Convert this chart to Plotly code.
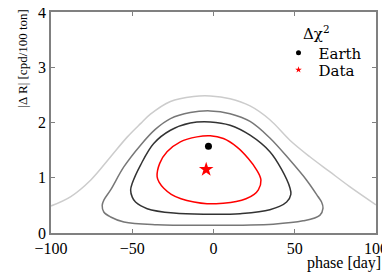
import plotly.graph_objects as go

# Contour levels
light_x = [-100, -87.8, -75.5, -63.3, -53, -44.9, -38.8, -26.5, -12.3, -2, 10.2, 22.5, 34.7, 47, 59.3, 71.5, 83.8, 100]
light_y = [0.49, 0.66, 0.96, 1.38, 1.74, 1.98, 2.15, 2.38, 2.47, 2.48, 2.43, 2.30, 2.05, 1.68, 1.38, 1.11, 0.84, 0.51]

mid_x = [-2, -14.3, -26.5, -36, -44.9, -55.1, -63.3, -67.4, -68.5, -67.5, -63.3, -55.1, -34.7, -4, 36.8, 55.1, 65.4, 67.4, 66.5, 64.3, 57.2, 47, 34.7, 22.5, 10.2, -2]
mid_y = [2.21, 2.18, 2.07, 1.87, 1.59, 1.20, 0.78, 0.60, 0.50, 0.38, 0.29, 0.20, 0.15, 0.14, 0.16, 0.22, 0.32, 0.45, 0.56, 0.66, 0.96, 1.32, 1.72, 2.02, 2.16, 2.21]

dark_x = [-2, -14.3, -26.5, -36.8, -44.9, -50, -51, -50, -48, -40.8, -24.5, -4, 16.4, 34.7, 45, 47.6, 47, 41.9, 34.7, 22.5, 10.2, -2]
dark_y = [2.01, 1.99, 1.86, 1.62, 1.23, 0.90, 0.78, 0.65, 0.56, 0.44, 0.36, 0.34, 0.35, 0.42, 0.56, 0.70, 0.82, 1.15, 1.47, 1.77, 1.95, 2.01]

red_x = [-2, -10.2, -20.4, -28.6, -33.1, -34.7, -33.5, -30.6, -26, -20, -12, -4, 6, 14, 20, 25, 27.6, 29.2, 26.6, 21.4, 14.3, 6.1, -2]
red_y = [1.76, 1.74, 1.65, 1.47, 1.26, 1.02, 0.92, 0.81, 0.70, 0.62, 0.56, 0.53, 0.54, 0.57, 0.62, 0.70, 0.78, 0.96, 1.14, 1.35, 1.56, 1.71, 1.76]

earth_x = [-3.1]
earth_y = [1.57]
data_x = [-4.5]
data_y = [1.15]

x_ticks = [-100, -50, 0, 50, 100]
x_ticklabels = ["\u2212100", "\u221250", "0", "50", "100"]
y_ticks = [0, 1, 2, 3, 4]

SERIF = "Liberation Serif, Times New Roman, serif"
LEG = "DejaVu Serif, serif"

fig = go.Figure()
for xs, ys, col in [(light_x, light_y, "#cccccc"), (mid_x, mid_y, "#777777"),
                    (dark_x, dark_y, "#333333"), (red_x, red_y, "#ff0000")]:
    fig.add_trace(go.Scatter(x=xs, y=ys, mode="lines", line=dict(color=col, width=1.5, shape="spline", smoothing=1.0),
                             showlegend=False, hoverinfo="skip"))

fig.add_trace(go.Scatter(x=earth_x, y=earth_y, mode="markers", marker=dict(color="black", size=7), showlegend=False))
fig.add_trace(go.Scatter(x=data_x, y=data_y, mode="markers", marker=dict(color="red", size=11, symbol="star"), showlegend=False))
# legend entries
fig.add_trace(go.Scatter(x=[None], y=[None], mode="markers", name="Earth", marker=dict(color="black", size=5), legend="legend"))
fig.add_trace(go.Scatter(x=[None], y=[None], mode="markers", name="Data", marker=dict(color="red", size=5, symbol="star"), legend="legend2"))

axis_common = dict(showline=True, linecolor="#808080", linewidth=1.5, mirror="ticks", ticks="inside", ticklen=4,
                   tickcolor="#808080", showgrid=False, zeroline=False, ticklabeloverflow="allow", automargin=False,
                   tickfont=dict(family=SERIF, size=16, color="black"))
fig.update_xaxes(range=[-100, 100], tickvals=x_ticks, ticktext=x_ticklabels, **axis_common)
fig.update_yaxes(range=[0, 4], tickvals=y_ticks, **axis_common)

leg_common = dict(xanchor="left", yanchor="middle", bgcolor="rgba(0,0,0,0)",
                  font=dict(family=LEG, size=15, color="black"), itemwidth=30)
fig.update_layout(
    width=382, height=264, margin=dict(l=43, r=14, t=4, b=39, autoexpand=False),
    paper_bgcolor="white", plot_bgcolor="white",
    font=dict(family=SERIF, color="black"),
    legend=dict(x=0.7, y=0.8145, **leg_common),
    legend2=dict(x=0.7, y=0.7376, **leg_common),
    annotations=[
        dict(text="\u0394\u03c7<sup>2</sup>", x=0.818, y=0.905, xref="paper", yref="paper", xanchor="center", yanchor="middle",
             showarrow=False, font=dict(family=LEG, size=15, color="black")),
        dict(text="phase [day]", x=1.0215, y=-0.135, xref="paper", yref="paper", xanchor="right", yanchor="middle",
             showarrow=False, font=dict(family=SERIF, size=16, color="black")),
        dict(text="|\u0394 R| [cpd/100 ton]", x=-0.089, y=0.79, xref="paper", yref="paper", xanchor="center", yanchor="middle",
             textangle=-90, showarrow=False, font=dict(family=SERIF, size=13, color="black")),
    ],
)
fig.write_html("out.html")
